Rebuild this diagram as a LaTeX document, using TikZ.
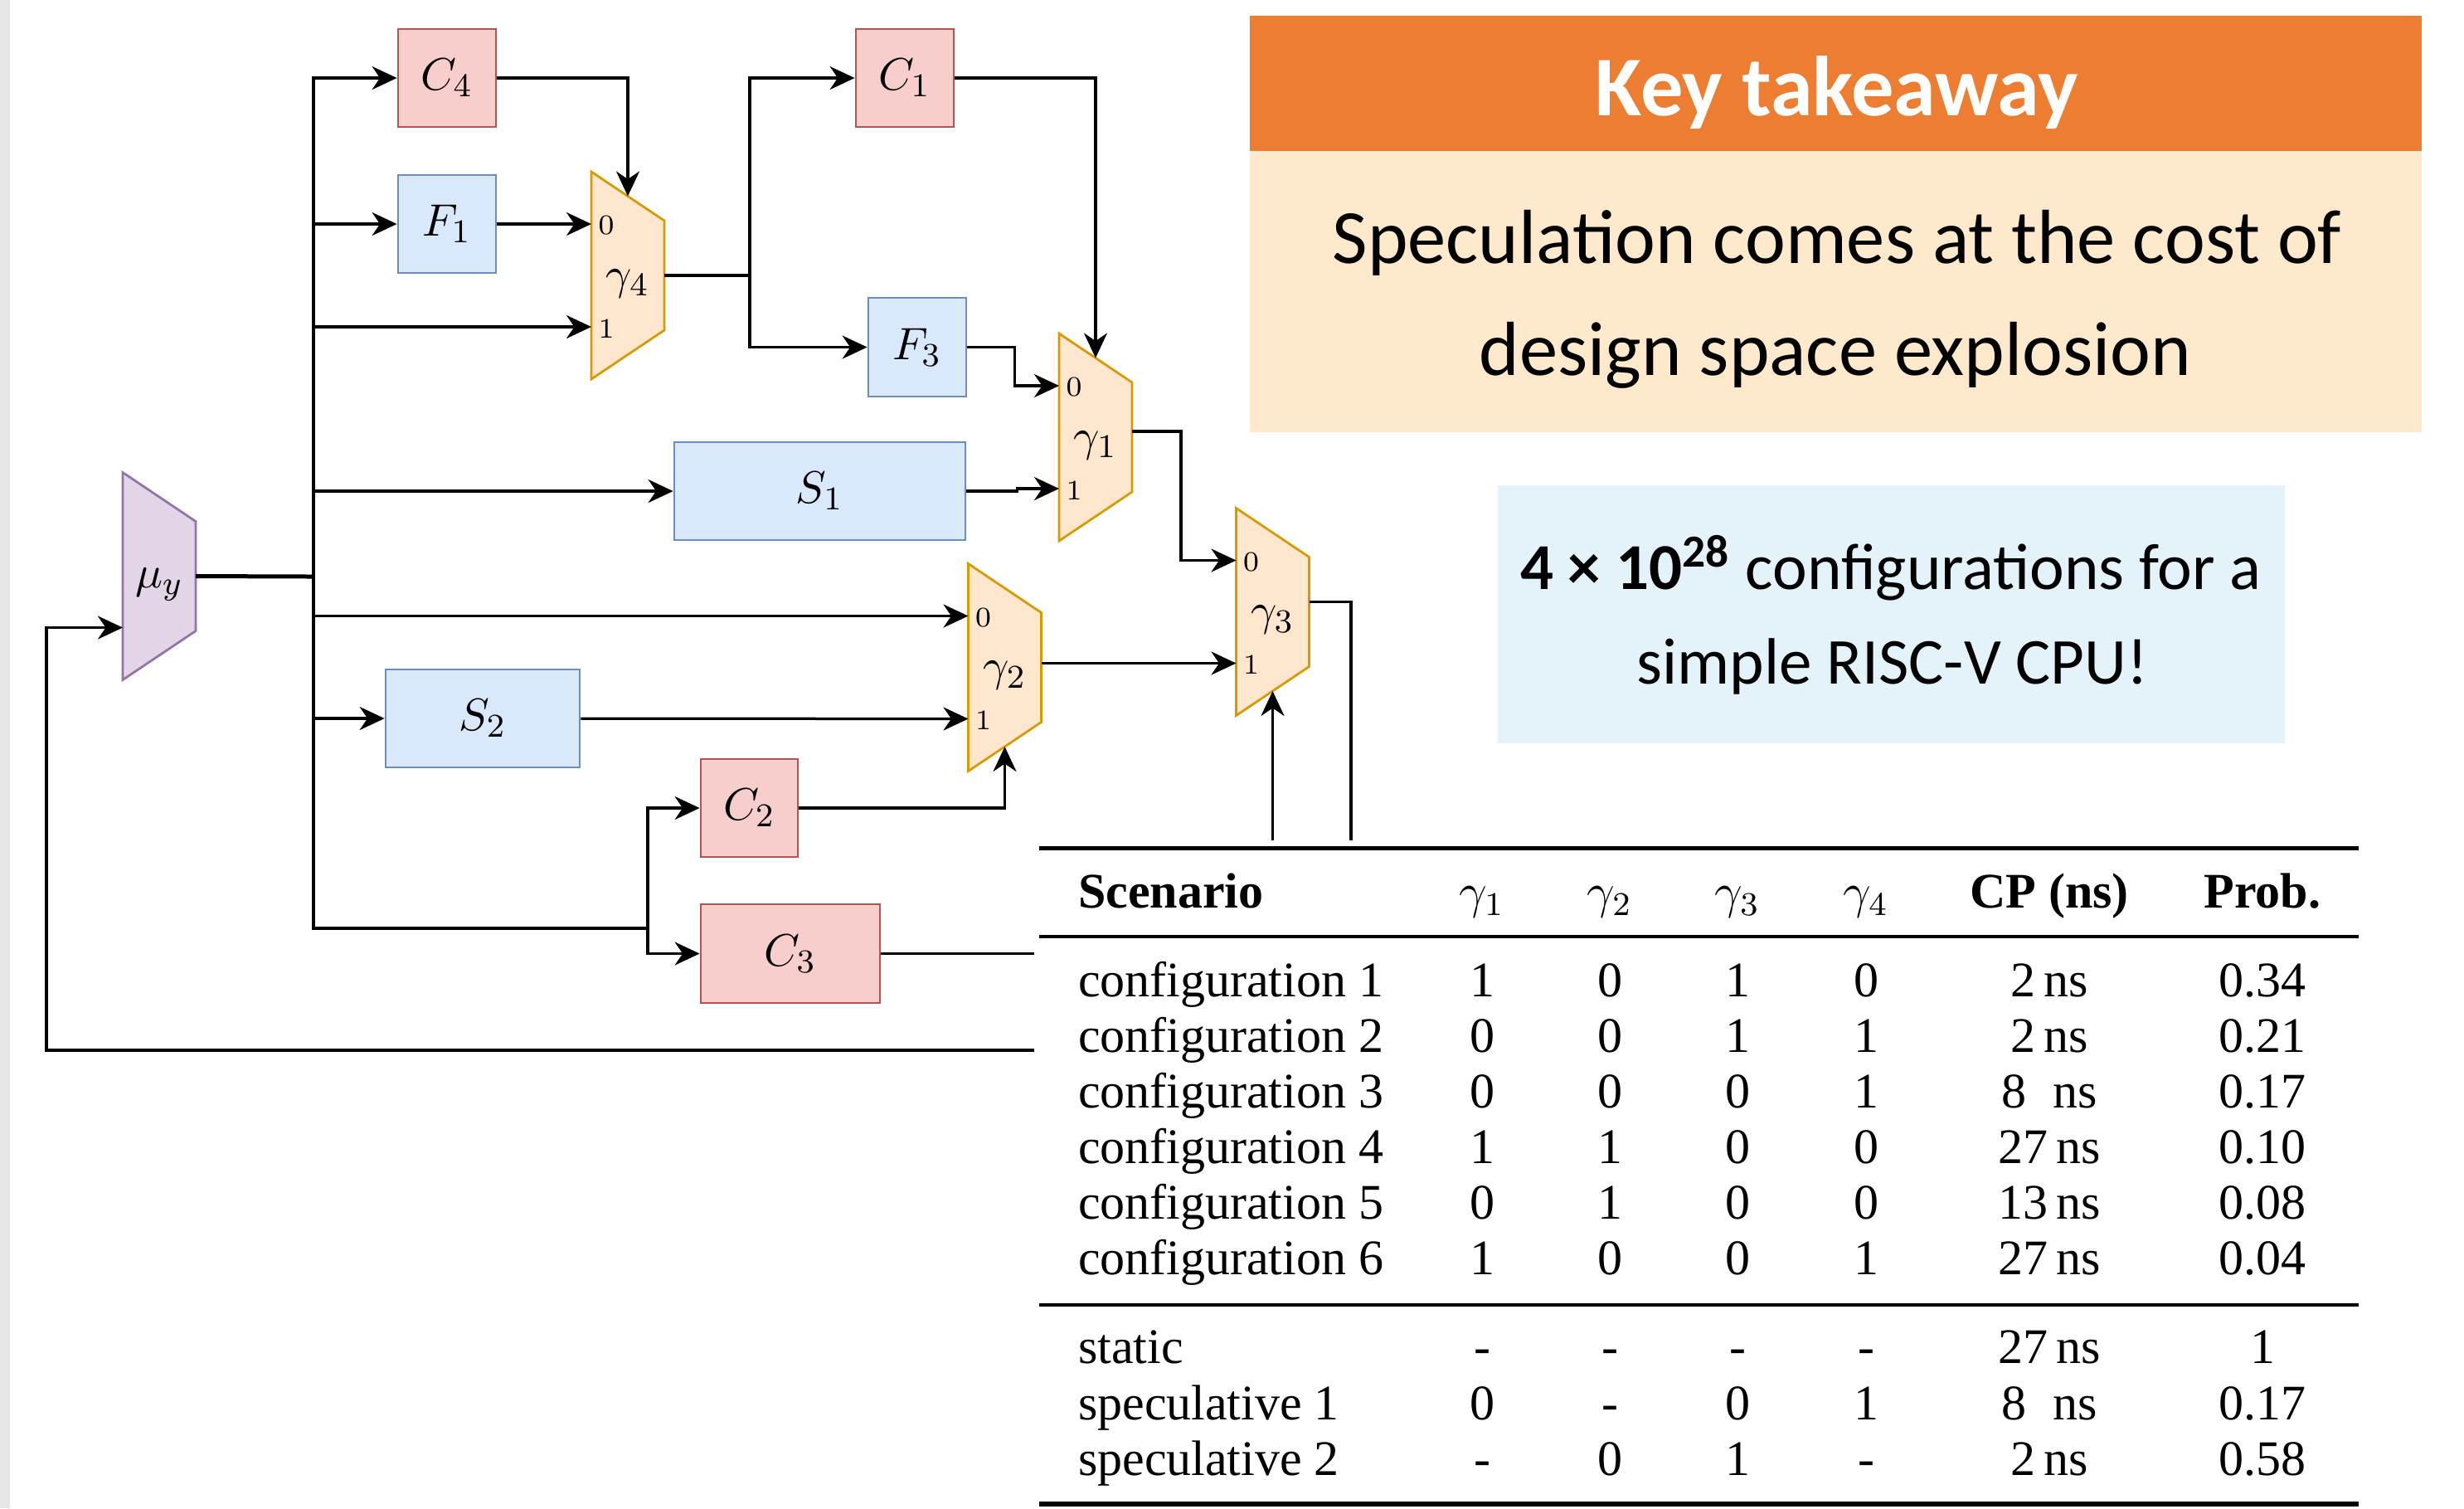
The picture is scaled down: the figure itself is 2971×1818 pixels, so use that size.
\documentclass[tikz,border=0pt]{standalone}
\usepackage{fontspec}
\newfontfamily\calib{Carlito}
\newfontfamily\tnr{Liberation Serif}
\usetikzlibrary{arrows.meta,calc}

\definecolor{rfill}{HTML}{F8CECC}
\definecolor{rdraw}{HTML}{B85450}
\definecolor{bfill}{HTML}{DAE8FC}
\definecolor{bdraw}{HTML}{6C8EBF}
\definecolor{ofill}{HTML}{FFE6CC}
\definecolor{odraw}{HTML}{D79B00}
\definecolor{pfill}{HTML}{E1D5E7}
\definecolor{pdraw}{HTML}{9673A6}
\definecolor{keyor}{HTML}{ED7D31}
\definecolor{keycream}{HTML}{FFE9CC}
\definecolor{infoblue}{HTML}{E4F3FA}
\definecolor{stripgray}{HTML}{E6E6E6}

\tikzset{
  wire/.style={line width=0.65pt, draw=black},
  arr/.style={wire, -{Stealth[length=6pt,width=5.6pt,inset=1.9pt]}},
  blk/.style={line width=0.55pt, inner sep=0pt, font=\fontsize{11}{13}\selectfont},
  cblk/.style={blk, draw=rdraw, fill=rfill},
  fblk/.style={blk, draw=bdraw, fill=bfill},
  portlbl/.style={inner sep=0pt, font=\fontsize{6.8}{8}\selectfont},
  muxlbl/.style={inner sep=0pt, font=\fontsize{11}{13}\selectfont},
  tabcell/.style={inner sep=0pt, anchor=base, font=\tnr\fontsize{12}{14}\selectfont},
  tabhead/.style={inner sep=0pt, anchor=base, font=\tnr\bfseries\fontsize{12}{14}\selectfont},
  pics/mux/.style={code={
     \draw[line width=0.55pt, draw=odraw, fill=ofill] (-44,-125) -- (44,-66) -- (44,66) -- (-44,125) -- cycle;
     \node[muxlbl] (-lbl) at (0,10) {#1};
     \node[portlbl] (-p0) at (-26,-60) {0};
     \node[portlbl] (-p1) at (-26,64) {1};
     \coordinate (-in0) at (-44,-62);
     \coordinate (-in1) at (-44,62);
     \coordinate (-out) at (44,0);
     \coordinate (-top) at (0,-95.5);
     \coordinate (-bot) at (0,95.5);
  }},
  pics/inmux/.style={code={
     \draw[line width=0.55pt, draw=pdraw, fill=pfill] (-44,-125) -- (44,-66) -- (44,66) -- (-44,125) -- cycle;
     \node[muxlbl] (-lbl) at (0,10) {#1};
     \coordinate (-in1) at (-44,62);
     \coordinate (-out) at (44,0);
  }},
}

\begin{document}
\begin{tikzpicture}[x=0.2pt, y=-0.2pt]
\useasboundingbox (0,0) rectangle (2971,1818);
\fill[stripgray] (0,0) rectangle (12,1818);

% ---------- blocks ----------
\node[cblk, minimum width=23.6pt, minimum height=23.6pt] (C4) at (539,94) {$C_4$};
\node[fblk, minimum width=23.6pt, minimum height=23.6pt] (F1) at (539,270) {$F_1$};
\node[cblk, minimum width=23.6pt, minimum height=23.6pt] (C1) at (1091,94) {$C_1$};
\node[fblk, minimum width=23.6pt, minimum height=23.8pt] (F3) at (1106,418.5) {$F_3$};
\node[fblk, minimum width=70.2pt, minimum height=23.6pt] (S1) at (988.5,592) {$S_1$};
\node[fblk, minimum width=46.8pt, minimum height=23.6pt] (S2) at (582,866) {$S_2$};
\node[cblk, minimum width=23.4pt, minimum height=23.6pt] (C2) at (903.5,974) {$C_2$};
\node[cblk, minimum width=43.2pt, minimum height=23.8pt] (C3) at (953,1149.5) {$C_3$};

% ---------- muxes ----------
\pic (my) at (192,694.5) {inmux={$\mu_y$}};
\pic (g4) at (757,332) {mux={$\gamma_4$}};
\pic (g1) at (1321,527) {mux={$\gamma_1$}};
\pic (g2) at (1211.5,804.5) {mux={$\gamma_2$}};
\pic (g3) at (1534.5,737.5) {mux={$\gamma_3$}};

% ---------- junctions / free ends ----------
\coordinate (bus) at (378,695);
\coordinate (j1) at (904,332);
\coordinate (jc) at (781,1119);
\coordinate (c3end) at (1247,1149.5);
\coordinate (fb) at (1247,1266);
\coordinate (g3outend) at (1629,1013);
\coordinate (g3sel) at (1534.5,1013);

% ---------- connectors ----------
\draw[wire, line width=1pt] (my-out) -- (bus);
\draw[arr] (bus) |- (C4);
\draw[arr] (bus) |- (F1);
\draw[arr] (bus) |- (g4-in1);
\draw[arr] (bus) |- (S1);
\draw[arr] (bus) |- (g2-in0);
\draw[arr] (bus) |- (S2);
\draw[wire] (bus) |- (jc);
\draw[arr] (jc) |- (C2);
\draw[arr] (jc) |- (C3);

\draw[arr] (C4) -| (g4-top);
\draw[arr] (F1) -- (g4-in0);
\draw[wire] (g4-out) -- (j1);
\draw[arr] (j1) |- (C1);
\draw[arr] (j1) |- (F3);

\draw[arr] (C1) -| (g1-top);
\draw[arr] (F3.east) -- ++(57,0) |- (g1-in0);
\draw[arr] (S1.east) -- ++(61,0) |- (g1-in1);
\draw[arr] ($(g1-out)+(0,-7)$) -- ++(59,0) |- (g3-in0);

\draw[arr] (S2) -- (g2-in1);
\draw[arr] (g2-out |- g3-in1) -- (g3-in1);
\draw[arr] (C2) -| (g2-bot);

\draw[wire] (C3) -- (c3end);
\draw[arr] (fb) -- (56,1266) |- (my-in1);
\draw[wire] ($(g3-out)+(0,-12)$) -| (g3outend);
\draw[arr] (g3sel) -- (g3-bot);

% ---------- key takeaway boxes ----------
\node[fill=keyor, inner sep=0pt, minimum width=282.6pt, minimum height=32.6pt] (keyhead) at (2213.5,100.5) {};
\node[fill=keycream, inner sep=0pt, minimum width=282.6pt, minimum height=67.8pt] (keybody) at (2213.5,351.5) {};
\node[fill=infoblue, inner sep=0pt, minimum width=189.8pt, minimum height=62.2pt] (info) at (2280.5,740.5) {};

\node[anchor=base, inner sep=0pt, text=white, font=\calib\bfseries\fontsize{20.5}{24}\selectfont] (keytitle) at (2215,139) {Key takeaway};
\node[anchor=base, inner sep=0pt, font=\calib\fontsize{18.5}{22}\selectfont] (keyl1) at (2215,317) {Speculation comes at the cost of};
\node[anchor=base, inner sep=0pt, font=\calib\fontsize{18.5}{22}\selectfont] (keyl2) at (2213,452) {design space explosion};
\node[anchor=base, inner sep=0pt, font=\calib\fontsize{15.8}{19}\selectfont] (infol1) at (2280,710) {{\bfseries 4 × 10\textsuperscript{28}} configurations for a};
\node[anchor=base, inner sep=0pt, font=\calib\fontsize{15.8}{19}\selectfont] (infol2) at (2282,824) {simple RISC-V CPU!};

% ---------- table ----------
\draw[line width=1pt] (1253,1022) -- (2844,1022);
\draw[line width=0.7pt] (1253,1129) -- (2844,1129);
\draw[line width=0.7pt] (1253,1573) -- (2844,1573);
\draw[line width=1.1pt] (1253,1813) -- (2844,1813);

\node[tabhead, anchor=base west] (h0) at (1299,1094) {Scenario};
\node[tabcell] (h1) at (1787,1094) {$\gamma_1$};
\node[tabcell] (h2) at (1941,1094) {$\gamma_2$};
\node[tabcell] (h3) at (2095,1094) {$\gamma_3$};
\node[tabcell] (h4) at (2250,1094) {$\gamma_4$};
\node[tabhead] (h5) at (2471,1094) {CP (ns)};
\node[tabhead] (h6) at (2728,1094) {Prob.};

\foreach \nm/\a/\b/\c/\d/\cp/\p/\yy [count=\i] in {
  configuration 1/1/0/1/0/2\,ns/0.34/1201,
  configuration 2/0/0/1/1/2\,ns/0.21/1268,
  configuration 3/0/0/0/1/8\hspace{0.53em}ns/0.17/1335,
  configuration 4/1/1/0/0/27\,ns/0.10/1402,
  configuration 5/0/1/0/0/13\,ns/0.08/1469,
  configuration 6/1/0/0/1/27\,ns/0.04/1536,
  static/-/-/-/-/27\,ns/1/1643,
  speculative 1/0/-/0/1/8\hspace{0.53em}ns/0.17/1711,
  speculative 2/-/0/1/-/2\,ns/0.58/1778}{
  \node[tabcell, anchor=base west] (r\i n) at (1299,\yy) {\nm};
  \node[tabcell] (r\i a) at (1787,\yy) {\a};
  \node[tabcell] (r\i b) at (1941,\yy) {\b};
  \node[tabcell] (r\i c) at (2095,\yy) {\c};
  \node[tabcell] (r\i d) at (2250,\yy) {\d};
  \node[tabcell] (r\i e) at (2471,\yy) {\cp};
  \node[tabcell] (r\i f) at (2728,\yy) {\p};
}
\end{tikzpicture}
\end{document}
